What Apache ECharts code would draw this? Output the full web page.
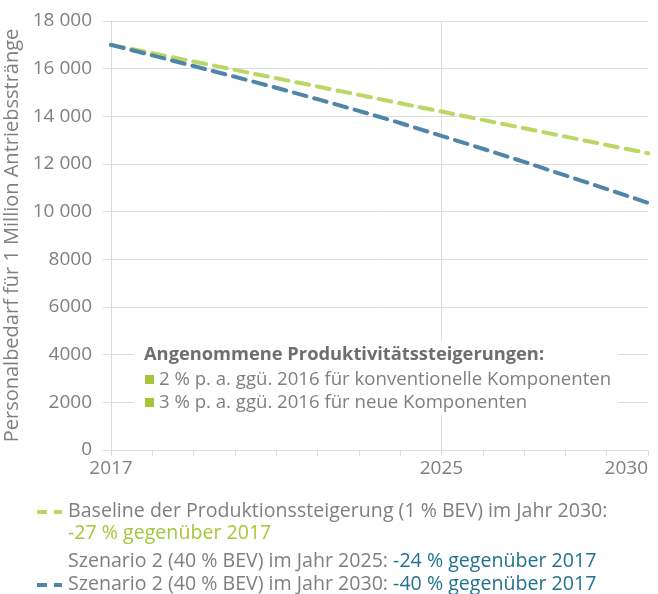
<!DOCTYPE html>
<html>
<head>
<meta charset="utf-8">
<script src="https://cdn.jsdelivr.net/npm/echarts@6/dist/echarts.min.js"></script>
<style>
  html, body { margin: 0; padding: 0; background: #fff; }
  #chart { width: 658px; height: 594px; }
</style>
</head>
<body>
<div id="chart"></div>
<script>
const years = ['2017', '2018', '2019', '2020', '2021', '2022', '2023', '2024', '2025', '2026', '2027', '2028', '2029', '2030']
const shownYears = ['2017', '2025', '2030']
const baseline = [17000, 16650, 16300, 15950, 15600, 15250, 14900, 14550, 14200, 13850, 13500, 13150, 12800, 12450]
const scenario2 = [17000, 16560, 16110, 15660, 15200, 14720, 14230, 13720, 13180, 12640, 12090, 11520, 10950, 10370]
const yTicks = { min: 0, max: 18000, step: 2000 }

const gray = '#7f7f7f'
const gridColor = '#dcdcdc'
const green = '#bcd764'
const blue = '#4f86a8'
const font = '"Open Sans", "Noto Sans", sans-serif'

function fmtTick(v) {
  if (v >= 10000) return String(v).replace(/(\d+)(\d{3})$/, '$1 $2')
  return String(v)
}

const chart = echarts.init(document.getElementById('chart'), null, { renderer: 'canvas' })

chart.setOption({
  animation: false,
  textStyle: { fontFamily: font },
  grid: { left: 111, right: 10, top: 21, bottom: 144, containLabel: false, outerBoundsMode: 'none' },
  xAxis: {
    type: 'category',
    data: years,
    boundaryGap: false,
    axisLine: { lineStyle: { color: gridColor, width: 1 } },
    axisTick: { interval: 0, length: 6, lineStyle: { color: gridColor } },
    axisLabel: {
      interval: (i, v) => shownYears.includes(v),
      alignMaxLabel: 'right',
      color: gray,
      fontSize: 19,
      margin: 9,
      fontFamily: font,
    },
    splitLine: {
      show: true,
      interval: (i, v) => v === '2025',
      lineStyle: { color: gridColor, width: 1 },
    },
  },
  yAxis: {
    type: 'value',
    min: yTicks.min,
    max: yTicks.max,
    interval: yTicks.step,
    name: 'Personalbedarf für 1 Million Antriebsstränge',
    nameLocation: 'middle',
    nameGap: 86,
    nameTextStyle: { color: gray, fontSize: 20, fontFamily: font },
    axisLine: { show: true, lineStyle: { color: gridColor } },
    axisTick: { show: true, length: 8, lineStyle: { color: gridColor } },
    axisLabel: { color: gray, fontSize: 19, margin: 19, formatter: fmtTick, fontFamily: font },
    splitLine: { lineStyle: { color: gridColor, width: 1 } },
  },
  series: [
    {
      name: 'Baseline',
      type: 'line',
      data: baseline,
      symbol: 'none',
      lineStyle: { color: green, width: 4, type: [13, 8], cap: 'round' },
      z: 3,
    },
    {
      name: 'Szenario 2',
      type: 'line',
      data: scenario2,
      symbol: 'none',
      lineStyle: { color: blue, width: 4, type: [13, 8], cap: 'round' },
      z: 4,
    },
  ],
  graphic: [
    // inner note box
    { type: 'rect', left: 134, top: 341, shape: { width: 484, height: 74 }, style: { fill: '#fff' }, z: 10 },
    {
      type: 'text', x: 144, y: 355, z: 11,
      style: { text: 'Angenommene Produktivitätssteigerungen:', fill: '#6e6e6e', font: 'bold 18.3px ' + font, verticalAlign: 'middle' },
    },
    { type: 'rect', x: 145, y: 375, shape: { width: 9, height: 9 }, style: { fill: '#a5c43a' }, z: 11 },
    {
      type: 'text', x: 159, y: 380, z: 11,
      style: { text: '2 % p. a. ggü. 2016 für konventionelle Komponenten', fill: gray, font: '18.6px ' + font, verticalAlign: 'middle' },
    },
    { type: 'rect', x: 145, y: 398, shape: { width: 9, height: 9 }, style: { fill: '#a5c43a' }, z: 11 },
    {
      type: 'text', x: 159, y: 403, z: 11,
      style: { text: '3 % p. a. ggü. 2016 für neue Komponenten', fill: gray, font: '18.6px ' + font, verticalAlign: 'middle' },
    },

    // bottom legend
    { type: 'line', shape: { x1: 37, y1: 512, x2: 47, y2: 512 }, style: { stroke: green, lineWidth: 4 } },
    { type: 'line', shape: { x1: 54, y1: 512, x2: 62, y2: 512 }, style: { stroke: green, lineWidth: 4 } },
    {
      type: 'text', x: 68, y: 511,
      style: { text: 'Baseline der Produktionssteigerung (1 % BEV) im Jahr 2030:', fill: gray, font: '19.6px ' + font, verticalAlign: 'middle' },
    },
    {
      type: 'text', x: 68, y: 533,
      style: { text: '-27 % gegenüber 2017', fill: '#a8c63a', font: '19.6px ' + font, verticalAlign: 'middle' },
    },
    {
      type: 'text', x: 68, y: 561,
      style: {
        text: '{a|Szenario 2 (40 % BEV) im Jahr 2025: }{b|-24 % gegenüber 2017}',
        verticalAlign: 'middle',
        rich: {
          a: { fill: gray, font: '19.6px ' + font },
          b: { fill: '#22728f', font: '19.6px ' + font },
        },
      },
    },
    { type: 'line', shape: { x1: 37, y1: 585, x2: 47, y2: 585 }, style: { stroke: blue, lineWidth: 4 } },
    { type: 'line', shape: { x1: 54, y1: 585, x2: 62, y2: 585 }, style: { stroke: blue, lineWidth: 4 } },
    {
      type: 'text', x: 68, y: 584,
      style: {
        text: '{a|Szenario 2 (40 % BEV) im Jahr 2030: }{b|-40 % gegenüber 2017}',
        verticalAlign: 'middle',
        rich: {
          a: { fill: gray, font: '19.6px ' + font },
          b: { fill: '#22728f', font: '19.6px ' + font },
        },
      },
    },
  ],
})
</script>
</body>
</html>
